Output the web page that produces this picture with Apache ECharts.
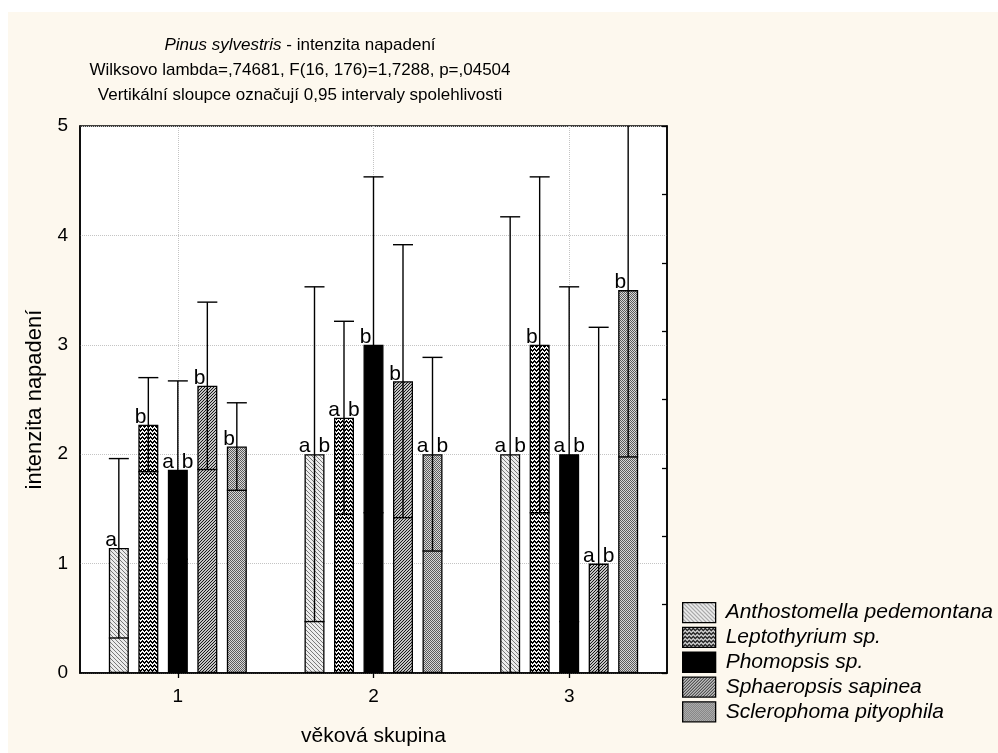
<!DOCTYPE html>
<html>
<head>
<meta charset="utf-8">
<script src="https://cdn.jsdelivr.net/npm/echarts@6/dist/echarts.min.js"></script>
<style>html,body{margin:0;padding:0;background:#fff;}#c{width:998px;height:753px;}</style>
</head>
<body>
<div id="c"></div>
<script>
// ---------------- data ----------------
const categories = ['1', '2', '3'];
const speciesNames = ['Anthostomella pedemontana', 'Leptothyrium sp.', 'Phomopsis sp.', 'Sphaeropsis sapinea', 'Sclerophoma pityophila'];

const anthoMean = [1.143, 2.0, 2.0];
const anthoLow = [0.32, 0.47, -0.17];
const anthoHigh = [1.96, 3.53, 4.17];
const anthoLetters = ['a', 'a b', 'a b'];

const leptoMean = [2.27, 2.333, 3.0];
const leptoLow = [1.84, 1.45, 1.465];
const leptoHigh = [2.70, 3.215, 4.535];
const leptoLetters = ['b', 'a b', 'b'];

const phomoMean = [1.857, 3.0, 2.0];
const phomoLow = [1.04, 1.465, 0.47];
const phomoHigh = [2.67, 4.535, 3.53];
const phomoLetters = ['a b', 'b', 'a b'];

const sphaeMean = [2.625, 2.667, 1.0];
const sphaeLow = [1.86, 1.42, -1.16];
const sphaeHigh = [3.39, 3.915, 3.16];
const sphaeLetters = ['b', 'b', 'a b'];

const scleroMean = [2.07, 2.0, 3.5];
const scleroLow = [1.67, 1.115, 1.975];
const scleroHigh = [2.47, 2.885, 5.025];
const scleroLetters = ['b', 'a b', 'b'];

const yMin = 0, yMax = 5, yInterval = 1;
const yRightInterval = 0.625;

const titleLine1Italic = 'Pinus sylvestris';
const titleLine1Rest = ' - intenzita napadení';
const titleLine2 = 'Wilksovo lambda=,74681, F(16, 176)=1,7288, p=,04504';
const titleLine3 = 'Vertikální sloupce označují 0,95 intervaly spolehlivosti';
const xName = 'věková skupina';
const yName = 'intenzita napadení';

// ---------------- patterns ----------------
function makePattern(w, h, isDark, dark, light) {
  const c = document.createElement('canvas');
  c.width = w; c.height = h;
  const ctx = c.getContext('2d');
  ctx.fillStyle = light; ctx.fillRect(0, 0, w, h);
  ctx.fillStyle = dark;
  for (let y = 0; y < h; y++) for (let x = 0; x < w; x++) if (isDark(x, y)) ctx.fillRect(x, y, 1, 1);
  return { image: c, repeat: 'repeat' };
}
const fills = [
  makePattern(4, 4, (x, y) => ((x - y + 8) % 4) === 0, '#7a7a7a', '#ececec'),
  makePattern(4, 4, (x, y) => { const f = Math.abs((x % 4) - 2); return ((y - f + 8) % 4) < 2; }, '#000', '#f4f4f4'),
  '#000',
  makePattern(3, 3, (x, y) => ((x + y) % 3) === 0, '#1a1a1a', '#c4c4c4'),
  makePattern(2, 2, (x, y) => ((x + y) % 2) === 0, '#5c5c5c', '#d8d8d8')
];

const means = [anthoMean, leptoMean, phomoMean, sphaeMean, scleroMean];
const lows = [anthoLow, leptoLow, phomoLow, sphaeLow, scleroLow];
const highs = [anthoHigh, leptoHigh, phomoHigh, sphaeHigh, scleroHigh];
const letters = [anthoLetters, leptoLetters, phomoLetters, sphaeLetters, scleroLetters];

const BAR_W = 20;
const BAR_GAP = 9.5;
const PITCH = BAR_W + BAR_GAP;
const FONT = "'Liberation Sans', Arial, sans-serif";

const series = [];
speciesNames.forEach((name, s) => {
  series.push({
    name: name,
    type: 'bar',
    barWidth: BAR_W,
    barGap: (BAR_GAP / BAR_W * 100) + '%',
    data: means[s],
    itemStyle: { color: fills[s], borderColor: '#000', borderWidth: 1.3 },
    z: 2
  });
});
speciesNames.forEach((name, s) => {
  series.push({
    name: name + ' err',
    type: 'custom',
    clip: true,
    z: 3,
    silent: true,
    data: categories.map((c, i) => [i, lows[s][i], highs[s][i], means[s][i]]),
    renderItem: function (params, api) {
      const i = api.value(0);
      const cx = api.coord([i, 0])[0] + (s - 2) * PITCH;
      const yLo = api.coord([i, api.value(1)])[1];
      const yHi = api.coord([i, api.value(2)])[1];
      const yM = api.coord([i, api.value(3)])[1];
      const lt = letters[s][i];
      const st = { stroke: '#000', lineWidth: 1.4 };
      const half = BAR_W / 2;
      const children = [
        { type: 'line', shape: { x1: cx, y1: yLo, x2: cx, y2: yHi }, style: st },
        { type: 'line', shape: { x1: cx - half, y1: yHi, x2: cx + half, y2: yHi }, style: st },
        { type: 'line', shape: { x1: cx - half, y1: yLo, x2: cx + half, y2: yLo }, style: st }
      ];
      const parts = lt.split(' ');
      const txtStyle = { fill: '#000', font: "21px " + FONT, verticalAlign: 'bottom' };
      if (parts.length === 2) {
        children.push({ type: 'text', style: Object.assign({ text: parts[0], x: cx - 4, y: yM + 3, align: 'right' }, txtStyle) });
        children.push({ type: 'text', style: Object.assign({ text: parts[1], x: cx + 4, y: yM + 3, align: 'left' }, txtStyle) });
      } else {
        children.push({ type: 'text', style: Object.assign({ text: parts[0], x: cx - 2, y: yM + 3, align: 'right' }, txtStyle) });
      }
      return { type: 'group', children: children };
    }
  });
});

const chart = echarts.init(document.getElementById('c'), null, { renderer: 'canvas' });
chart.setOption({
  backgroundColor: '#fdf8ee',
  animation: false,
  textStyle: { fontFamily: FONT, color: '#000' },
  graphic: [
    { type: 'rect', shape: { x: 0, y: 0, width: 998, height: 12 }, style: { fill: '#fff' }, silent: true },
    { type: 'rect', shape: { x: 0, y: 0, width: 8, height: 753 }, style: { fill: '#fff' }, silent: true }
  ],
  title: {
    text: '{i|' + titleLine1Italic + '}' + titleLine1Rest + '\n' + titleLine2 + '\n' + titleLine3,
    left: 300, top: 33, textAlign: 'center', padding: 0,
    textStyle: {
      fontFamily: FONT, fontWeight: 'normal', fontSize: 17, lineHeight: 25, color: '#000',
      rich: { i: { fontStyle: 'italic', fontFamily: FONT, fontSize: 17, lineHeight: 25, color: '#000' } }
    }
  },
  legend: {
    orient: 'vertical', left: 682, top: 602, padding: 0,
    itemWidth: 33, itemHeight: 20, itemGap: 3.5,
    data: speciesNames,
    icon: 'rect',
    textStyle: { fontFamily: FONT, fontStyle: 'italic', fontSize: 21, lineHeight: 20, color: '#000', padding: [0, 0, 0, 5] },
    itemStyle: { borderColor: '#000', borderWidth: 1.3 }
  },
  grid: {
    left: 80, top: 126, right: 331, bottom: 80,
    show: true, backgroundColor: '#fff', borderColor: '#000', borderWidth: 1.5
  },
  xAxis: [
    {
      type: 'category', data: categories, position: 'bottom',
      axisLine: { lineStyle: { color: '#000', width: 1.5 } },
      axisTick: { show: false },
      axisLabel: { fontSize: 19, color: '#000', margin: 14, fontFamily: FONT },
      splitLine: { show: false },
      name: xName, nameLocation: 'middle', nameGap: 53,
      nameTextStyle: { fontSize: 21, color: '#000', fontFamily: FONT }
    },
    {
      type: 'category', data: ['', ...categories.flatMap(c => [c, ''])], position: 'top', boundaryGap: false,
      axisLine: { show: false },
      axisLabel: { show: false },
      axisTick: { show: true, inside: true, length: 5, interval: (i) => i % 2 === 1, lineStyle: { color: '#000', width: 1.3 } },
      splitLine: { show: true, interval: (i) => i % 2 === 1, lineStyle: { color: '#c4c4c4', type: [1, 1], width: 1 } }
    }
  ],
  yAxis: [
    {
      type: 'value', min: yMin, max: yMax, interval: yInterval, position: 'left',
      axisLine: { show: true, lineStyle: { color: '#000', width: 1.5 } },
      axisTick: { show: false },
      axisLabel: { fontSize: 19, color: '#000', margin: 12, fontFamily: FONT },
      splitLine: { show: true, lineStyle: { color: '#c4c4c4', type: [1, 1], width: 1 } },
      name: yName, nameLocation: 'middle', nameGap: 34,
      nameTextStyle: { fontSize: 22, color: '#000', fontFamily: FONT }
    },
    {
      type: 'value', min: yMin, max: yMax, interval: yRightInterval, position: 'right',
      axisLine: { show: true, lineStyle: { color: '#000', width: 1.5 } },
      axisTick: { show: true, inside: true, length: 5, lineStyle: { color: '#000', width: 1.3 } },
      axisLabel: { show: false },
      splitLine: { show: false }
    }
  ],
  series: series
});
</script>
</body>
</html>
